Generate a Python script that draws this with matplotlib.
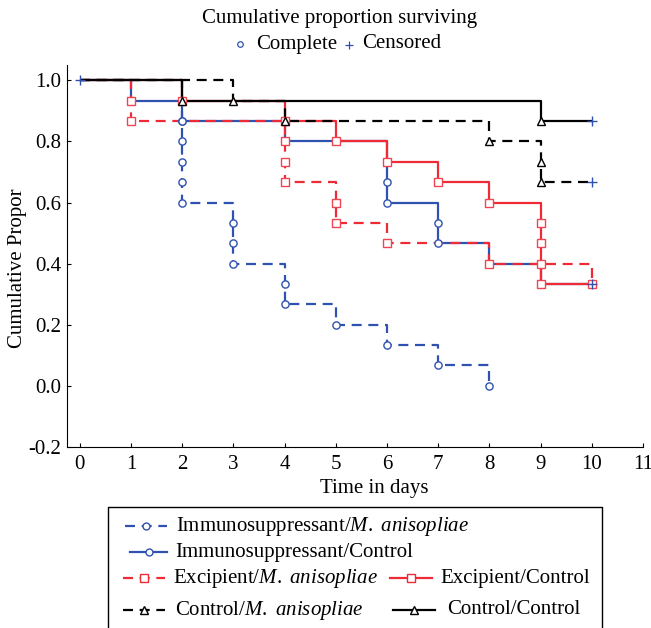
import matplotlib
matplotlib.use("Agg")
import matplotlib.pyplot as plt
from matplotlib.lines import Line2D

plt.rcParams['font.family'] = ['Liberation Serif', 'DejaVu Serif']
plt.rcParams['mathtext.fontset'] = 'custom'
plt.rcParams['mathtext.rm'] = 'Liberation Serif'
plt.rcParams['mathtext.it'] = 'Liberation Serif:italic'

BLUE = '#2f52b0'
RED = '#ee2a36'
BLACK = '#000000'

# ---- data: event (death) times and survival proportion after each event ----
imm_ma_t = [2, 2, 2, 2, 2, 2, 3, 3, 3, 4, 4, 5, 6, 7, 8]
imm_ma_s = [0.933, 0.867, 0.800, 0.733, 0.667, 0.600, 0.533, 0.467, 0.400,
            0.333, 0.267, 0.200, 0.133, 0.067, 0.000]
imm_ma_end = 8

imm_c_t = [1, 2, 4, 6, 6, 6, 7, 7, 8, 9]
imm_c_s = [0.933, 0.867, 0.800, 0.733, 0.667, 0.600, 0.533, 0.467, 0.400, 0.333]
imm_c_end = 10

exc_ma_t = [1, 1, 4, 4, 4, 5, 5, 6, 8, 10]
exc_ma_s = [0.933, 0.867, 0.800, 0.733, 0.667, 0.600, 0.533, 0.467, 0.400, 0.333]
exc_ma_end = 10

exc_c_t = [2, 4, 5, 6, 7, 8, 9, 9, 9, 9]
exc_c_s = [0.933, 0.867, 0.800, 0.733, 0.667, 0.600, 0.533, 0.467, 0.400, 0.333]
exc_c_end = 10

ctl_ma_t = [3, 4, 8, 9, 9]
ctl_ma_s = [0.933, 0.867, 0.800, 0.733, 0.667]
ctl_ma_end = 10

ctl_c_t = [2, 9]
ctl_c_s = [0.933, 0.867]
ctl_c_end = 10

censored_t = [0, 10, 10, 10]
censored_s = [1.0, 0.867, 0.667, 0.333]

series = [
    ("Immunosuppressant/$\\it{M.\\ anisopliae}$", imm_ma_t, imm_ma_s, imm_ma_end, BLUE, '--', 'o'),
    ("Immunosuppressant/Control", imm_c_t, imm_c_s, imm_c_end, BLUE, '-', 'o'),
    ("Excipient/$\\it{M.\\ anisopliae}$", exc_ma_t, exc_ma_s, exc_ma_end, RED, '--', 's'),
    ("Excipient/Control", exc_c_t, exc_c_s, exc_c_end, RED, '-', 's'),
    ("Control/$\\it{M.\\ anisopliae}$", ctl_ma_t, ctl_ma_s, ctl_ma_end, BLACK, '--', '^'),
    ("Control/Control", ctl_c_t, ctl_c_s, ctl_c_end, BLACK, '-', '^'),
]

FS = 15

fig = plt.figure(figsize=(6.51, 6.28), dpi=100)
ax = fig.add_axes([67/651, 1-447/628, (643-67)/651, (447-65)/628])

DASH = (0, (4.5, 3))

def step_path(times, surv, end):
    xs, ys = [0.0], [1.0]
    cur = 1.0
    for t, s in zip(times, surv):
        xs += [t, t]
        ys += [cur, s]
        cur = s
    if end > xs[-1]:
        xs.append(end)
        ys.append(cur)
    return xs, ys

for label, t, s, end, col, ls, mk in series:
    xs, ys = step_path(t, s, end)
    ax.plot(xs, ys, color=col, lw=1.6, linestyle=DASH if ls == '--' else '-',
            zorder=2, solid_capstyle='butt')
    ax.plot(t, s, linestyle='none', marker=mk, ms=6 if mk != 'o' else 5.2,
            mfc='white', mec=col if col != RED else '#f04452', mew=1.0, zorder=3)

ax.plot(censored_t, censored_s, linestyle='none', marker='+', ms=7, color=BLUE,
        mew=1.0, zorder=4)

ax.set_xlim(-0.25, 11.0)
ax.set_ylim(-0.2, 1.05)
ax.set_xticks(range(0, 12))
ax.set_yticks([-0.2, 0.0, 0.2, 0.4, 0.6, 0.8, 1.0])
ax.set_yticklabels(['-0.2', '0.0', '0.2', '0.4', '0.6', '0.8', '1.0'])
ax.spines['top'].set_visible(False)
ax.spines['right'].set_visible(False)
ax.tick_params(direction='in', length=3, labelsize=FS, width=0.8)
ax.tick_params(axis='x', pad=6)
ax.tick_params(axis='y', pad=4)
fig.text(374/651, 1-489/628, 'Time in days', fontsize=FS, ha='center', va='center')
fig.text(18/651, 1-268/628, 'Cumulative Propor', rotation=90, fontsize=FS,
         ha='center', va='center')

# title
fig.text(340/651, 1-18/628, 'Cumulative proportion surviving', fontsize=FS,
         ha='center', va='center')
fig.add_artist(Line2D([240/651], [1-44/628], marker='o', ms=4, mfc='white',
                      mec=BLUE, mew=0.9, transform=fig.transFigure))
fig.text(256/651, 1-44/628, 'Complete', fontsize=FS, ha='left', va='center')
fig.add_artist(Line2D([349/651], [1-45/628], marker='+', ms=6, color=BLUE,
                      mew=0.9, transform=fig.transFigure))
fig.text(362/651, 1-44/628, 'Censored', fontsize=FS, ha='left', va='center')

# legend box (manual layout)
lax = fig.add_axes([0, 0, 1, 1], facecolor='none')
lax.set_xlim(0, 651)
lax.set_ylim(628, 0)
lax.axis('off')
lax.plot([108, 108, 602, 602], [640, 507, 507, 640], color='black', lw=1.0)

leg_pos = [
    (125, 167, 176, 526),
    (130, 167, 175, 552),
    (123, 165, 173, 578),
    (390, 432, 440, 578),
    (123, 165, 175, 610),
    (393, 435, 447, 610),
]
for (label, t, s, end, col, ls, mk), (x0, x1, tx, y) in zip(series, leg_pos):
    lax.plot([x0, x1], [y, y], color=col, lw=1.6,
             linestyle=DASH if ls == '--' else '-')
    lax.plot([(x0 + x1) / 2], [y], marker=mk, ms=5.5 if mk != 'o' else 5,
             mfc='white', mec=col, mew=1.0, linestyle='none')
    lax.text(tx, y, label, fontsize=FS, ha='left', va='center')

fig.savefig('out.png', dpi=100)
